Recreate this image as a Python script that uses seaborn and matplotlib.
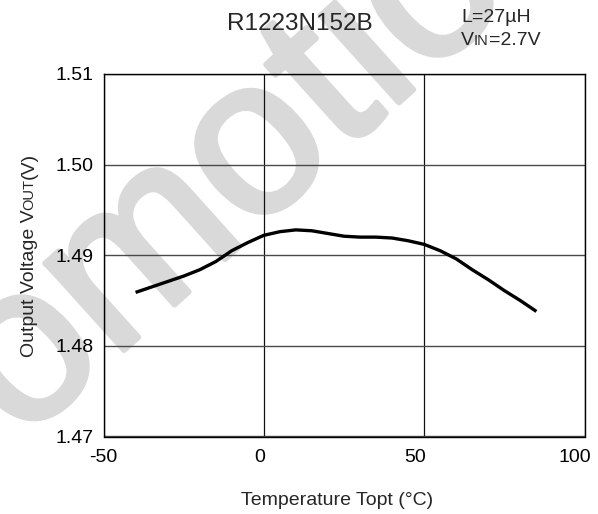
import matplotlib
matplotlib.use("Agg")

import matplotlib.pyplot as plt
import matplotlib.transforms as mtrans
import matplotlib.patheffects as pe
import seaborn as sns
import pandas as pd

# ── data ────────────────────────────────────────────────────────────────────
TEMP_C = [-40, -35, -30, -25, -20, -15, -10, -5, 0, 5, 10, 15, 20, 25, 30,
          35, 40, 45, 50, 55, 60, 65, 70, 75, 80, 85]
VOUT_V = [1.4859, 1.4865, 1.4871, 1.4877, 1.4884, 1.4893, 1.4905, 1.4914,
          1.4922, 1.4926, 1.4928, 1.4927, 1.4924, 1.4921, 1.4920, 1.4920,
          1.4919, 1.4916, 1.4912, 1.4905, 1.4896, 1.4884, 1.4873, 1.4861,
          1.4850, 1.4838]

X_TICKS = [-50, 0, 50, 100]
X_TICK_LABELS = ["-50", "0", "50", "100"]
Y_TICKS = [1.47, 1.48, 1.49, 1.50, 1.51]
Y_TICK_LABELS = ["1.47", "1.48", "1.49", "1.50", "1.51"]

TITLE = "R1223N152B"
COND_L = "L=27µH"
WATERMARK = "Promotion"

FONT = ["Liberation Sans", "DejaVu Sans"]
W, H, DPI = 598, 514, 100
WM_GREY = "#d9d9d9"

sns.set_style("white")
plt.rcParams["font.family"] = FONT


def _run(fig, x, y, parts, rotation=0):
    """Draw text pieces one after another on one baseline (fake small caps)."""
    renderer = fig.canvas.get_renderer()
    pos = [x * W, y * H]
    for txt, size in parts:
        t = fig.text(pos[0] / W, pos[1] / H, txt, fontsize=size, rotation=rotation,
                     rotation_mode="anchor", ha="left", va="baseline")
        bb = t.get_window_extent(renderer)
        if rotation == 90:
            pos[1] += bb.height
        else:
            pos[0] += bb.width


def _run_length(fig, parts):
    renderer = fig.canvas.get_renderer()
    total = 0
    for txt, size in parts:
        t = fig.text(0, 0, txt, fontsize=size)
        total += t.get_window_extent(renderer).width
        t.remove()
    return total


df = pd.DataFrame({"temp": TEMP_C, "vout": VOUT_V})

fig = plt.figure(figsize=(W / DPI, H / DPI), dpi=DPI)
ax = fig.add_axes([103.5 / W, 1 - 436.5 / H, (584.5 - 103.5) / W, (436.5 - 74) / H])
ax.set_facecolor("none")

sns.lineplot(data=df, x="temp", y="vout", ax=ax, color="black", lw=2.4,
             solid_capstyle="butt", solid_joinstyle="round", zorder=5)

ax.set_xlim(-50, 100)
ax.set_ylim(1.47, 1.51)
ax.set_xticks(X_TICKS, X_TICK_LABELS)
ax.set_yticks(Y_TICKS, Y_TICK_LABELS)
ax.tick_params(axis="both", length=0, labelsize=14, colors="black")
ax.tick_params(axis="x", pad=9)
ax.tick_params(axis="y", pad=7)
# the reference labels sit slightly left of their grid lines
for lab, dx in zip(ax.get_xticklabels(), [0, -4, -9, -10]):
    lab.set_transform(lab.get_transform() +
                      mtrans.ScaledTranslation(dx / DPI, 0, fig.dpi_scale_trans))
ax.grid(axis="y", color="#4a4a4a", lw=1.0)
ax.grid(axis="x", color="#111111", lw=0.9)
for s in ax.spines.values():
    s.set_color("black")
    s.set_linewidth(1.0)
    s.set_visible(True)
ax.set_xlabel("")
ax.set_ylabel("")

# x label
fig.text(337 / W, 1 - 505 / H, "Temperature Topt (°C)", fontsize=14,
         ha="center", va="baseline")

# title + conditions
fig.text(300 / W, 1 - 30 / H, TITLE, fontsize=17.5, ha="center", va="baseline")
fig.text(461 / W, 1 - 22 / H, COND_L, fontsize=14, ha="left", va="baseline")
_run(fig, 461 / W, 1 - 45 / H, [("V", 14), ("IN", 10.5), ("=2.7V", 14)])

# y label, baseline run upward, centred on the axes
ylab = [("Output Voltage V", 14), ("OUT", 10.5), ("(V)", 14)]
length = _run_length(fig, ylab)
_run(fig, 33.5 / W, (H - 255 - length / 2) / H, ylab, rotation=90)

# light grey watermark behind everything
fig.text(232 / W, 1 - 253 / H, WATERMARK, fontsize=160, color=WM_GREY,
         rotation=42, rotation_mode="anchor", ha="center", va="baseline",
         zorder=-1, path_effects=[pe.withStroke(linewidth=4, foreground=WM_GREY)])

fig.savefig("out.png", dpi=DPI, facecolor="white")
